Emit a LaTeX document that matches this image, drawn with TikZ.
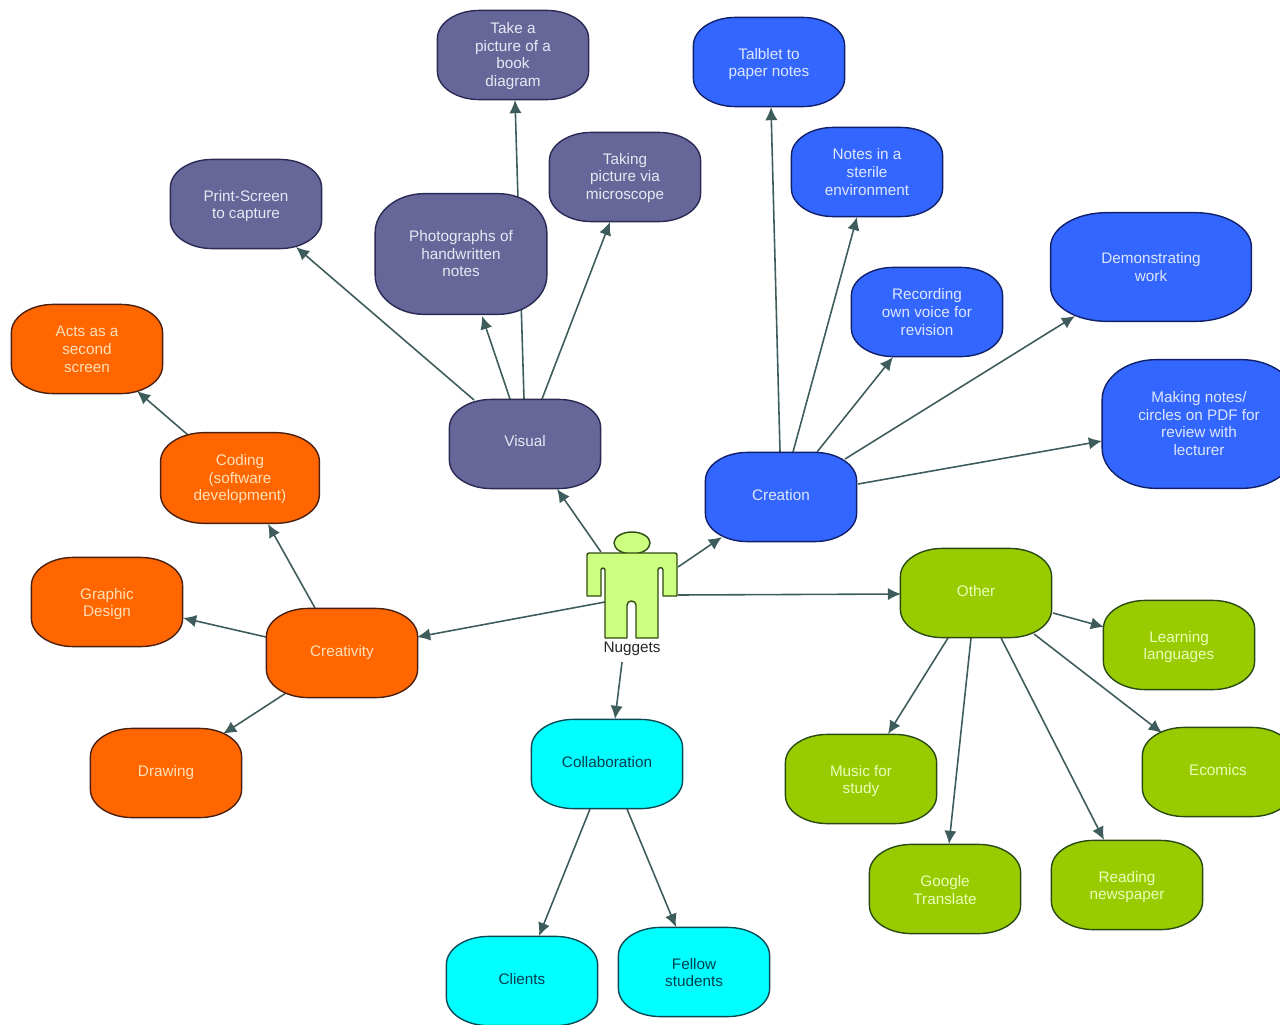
\documentclass[tikz,border=0pt]{standalone}
\usepackage{fontspec}
\setmainfont{Liberation Sans}
\usetikzlibrary{arrows.meta,backgrounds}
\definecolor{purp}{HTML}{666699}
\definecolor{purpl}{HTML}{2A2A55}
\definecolor{purpt}{HTML}{E8E8F4}
\definecolor{blu}{HTML}{3366FF}
\definecolor{blul}{HTML}{10206A}
\definecolor{blut}{HTML}{DDE6FF}
\definecolor{ora}{HTML}{FF6600}
\definecolor{oral}{HTML}{4A2010}
\definecolor{orat}{HTML}{FFE0B8}
\definecolor{gre}{HTML}{99CC00}
\definecolor{grel}{HTML}{2A4A14}
\definecolor{gret}{HTML}{E8FFB8}
\definecolor{cya}{HTML}{00FFFF}
\definecolor{cyal}{HTML}{0B4A55}
\definecolor{cyat}{HTML}{00404F}
\definecolor{edgec}{HTML}{3F5C5C}
\definecolor{manfill}{HTML}{CCFF80}
\definecolor{manline}{HTML}{2F4A10}
% text block, moved by #1 without changing the node's size
\newcommand{\tx}[2]{\raisebox{#1}[\height][\depth]{\begin{tabular}[c]{@{}c@{}}#2\end{tabular}}}
\newcommand{\conn}[4]{\draw[conn] ([shift={(#2)}]#1.center) -- ([shift={(#4)}]#3.center);}
% body of a bubble: name, fill, line, corner radii
\newcommand{\blob}[5]{\filldraw[fill=#2,draw=#3,line width=0.8pt]
  ([xshift=#4]#1.north west) -- ([xshift=-#4]#1.north east)
  .. controls ([xshift=-0.45*#4]#1.north east) and ([yshift=-0.45*#5]#1.north east) .. ([yshift=-#5]#1.north east)
  -- ([yshift=#5]#1.south east)
  .. controls ([yshift=0.45*#5]#1.south east) and ([xshift=-0.45*#4]#1.south east) .. ([xshift=-#4]#1.south east)
  -- ([xshift=#4]#1.south west)
  .. controls ([xshift=0.45*#4]#1.south west) and ([yshift=0.45*#5]#1.south west) .. ([yshift=#5]#1.south west)
  -- ([yshift=-#5]#1.north west)
  .. controls ([yshift=-0.45*#5]#1.north west) and ([xshift=0.45*#4]#1.north west) .. cycle;}
\newcommand{\blobn}[3]{\blob{#1}{#2}{#3}{0.84cm}{0.56cm}}
\tikzset{
  bubble/.style={inner sep=0pt,minimum width=3.01cm,minimum height=1.77cm,
    font=\fontsize{8.7}{10}\selectfont},
  boxw/.style={minimum width=#1*0.02cm},
  boxh/.style={minimum height=#1*0.02cm},
  purpbox/.style={bubble,text=purpt},
  blubox/.style={bubble,text=blut},
  orabox/.style={bubble,text=orat},
  grebox/.style={bubble,text=gret},
  cyabox/.style={bubble,text=cyat},
  conn/.style={draw=edgec,line width=0.9pt,-{Latex[length=7.5pt,width=7pt]}},
  manshape/.style={draw=manline,fill=manfill,line width=0.8pt,line join=round}
}
\begin{document}
\begin{tikzpicture}[x=0.02cm,y=-0.02cm]
\useasboundingbox (0,0) rectangle (1280,1024);
\clip (0,0) rectangle (1280,1024);
% person
\coordinate (man) at (632,595);
\filldraw[manshape] (632,543) ellipse [x radius=18,y radius=11];
\filldraw[manshape] (589,553) -- (675,553) to[out=0,in=90] (677,555) -- (677,596) -- (663,596) -- (663,570)
  to[out=90,in=90,looseness=1.6] (658,570) -- (658,638) -- (636,638) -- (636,605)
  to[out=90,in=90,looseness=1.5] (627,605) -- (627,638) -- (605,638) -- (605,570)
  to[out=90,in=90,looseness=1.6] (601,570) -- (601,596) -- (587,596) -- (587,555) to[out=90,in=180] cycle;
\node[font=\fontsize{8.7}{10}\selectfont,inner sep=0pt,text=black!85] (nug) at (632,648) {\raisebox{-0.6pt}[\height][\depth]{Nuggets}};
% purple
\node[purpbox] (take) at (513,55) {\tx{-0.9pt}{Take a\\picture of a\\book\\diagram}};
\node[purpbox] (print) at (246,204) {\tx{-1.4pt}{Print-Screen\\to capture}};
\node[purpbox] (taking) at (625,177) {\tx{-0.7pt}{Taking\\picture via\\microscope}};
\node[purpbox,boxw=171,boxh=120] (photo) at (461,254) {\tx{-0.9pt}{Photographs of\\handwritten\\notes}};
\node[purpbox] (vis) at (525,444) {\tx{0.6pt}{Visual}};
% blue
\node[blubox] (tab) at (769,62) {\tx{-1.4pt}{Talblet to\\paper notes}};
\node[blubox] (notes) at (867,172) {\tx{-1.1pt}{Notes in a\\sterile\\environment}};
\node[blubox] (rec) at (927,312) {\tx{-1.1pt}{Recording\\own voice for\\revision}};
\node[blubox,boxw=200,boxh=108] (demo) at (1151,267) {\tx{-1.1pt}{Demonstrating\\work}};
\node[blubox,boxw=193,boxh=128] (mak) at (1199,424) {\tx{-0.9pt}{Making notes/\\circles on PDF for\\review with\\lecturer}};
\node[blubox] (cre) at (781,497) {\tx{0pt}{Creation}};
% orange
\node[orabox] (acts) at (87,349) {\tx{-1.1pt}{Acts as a\\second\\screen}};
\node[orabox,boxw=158,boxh=90] (cod) at (240,478) {\tx{-0.9pt}{Coding\\(software\\development)}};
\node[orabox] (gra) at (107,602) {\tx{-1.4pt}{Graphic\\Design}};
\node[orabox] (crty) at (342,653) {\tx{0pt}{Creativity}};
\node[orabox] (dra) at (166,773) {\tx{0pt}{Drawing}};
% cyan
\node[cyabox] (col) at (607,764) {\tx{0pt}{Collaboration}};
\node[cyabox] (cli) at (522,981) {\tx{0pt}{Clients}};
\node[cyabox] (fel) at (694,972) {\tx{-1.4pt}{Fellow\\students}};
% green
\node[grebox] (oth) at (976,593) {\tx{0pt}{Other}};
\node[grebox] (lea) at (1179,645) {\tx{-1.4pt}{Learning\\languages}};
\node[grebox] (mus) at (861,779) {\tx{-1.4pt}{Music for\\study}};
\node[grebox] (eco) at (1218,772) {\tx{0pt}{Ecomics}};
\node[grebox] (goo) at (945,889) {\tx{-1.6pt}{Google\\Translate}};
\node[grebox] (rea) at (1127,885) {\tx{-1.4pt}{Reading\\newspaper}};
% connectors, then the bubble bodies over them, all behind the texts
\begin{scope}[on background layer]
\conn{man}{-31,-43}{vis}{32,45}
\conn{man}{46,-28}{cre}{-59,40}
\conn{man}{46,0}{oth}{-75,1}
\conn{man}{-27,7}{crty}{75,-16}
\conn{nug}{-10,14}{col}{8,-45}
\conn{vis}{-51,-44}{print}{50,43}
\conn{vis}{-15,-45}{photo}{21,62}
\conn{vis}{-1,-45}{take}{2,45}
\conn{vis}{17,-45}{taking}{-15,45}
\conn{cre}{-1,-45}{tab}{2,45}
\conn{cre}{12,-45}{notes}{-10,45}
\conn{cre}{36,-45}{rec}{-34,45}
\conn{cre}{64,-38}{demo}{-76,49}
\conn{cre}{77,-13}{mak}{-97,17}
\conn{crty}{-27,-45}{cod}{28,46}
\conn{cod}{-52,-43}{acts}{50,42}
\conn{crty}{-76,-16}{gra}{76,16}
\conn{crty}{-56,40}{dra}{57,-39}
\conn{col}{-17,45}{cli}{17,-45}
\conn{col}{20,45}{fel}{-18,-45}
\conn{oth}{77,20}{lea}{-75,-18}
\conn{oth}{-28,45}{mus}{27,-45}
\conn{oth}{-5,45}{goo}{4,-45}
\conn{oth}{25,45}{rea}{-23,-45}
\conn{oth}{58,41}{eco}{-56,-39}
\blobn{take}{purp}{purpl}
\blobn{print}{purp}{purpl}
\blobn{taking}{purp}{purpl}
\blob{photo}{purp}{purpl}{0.98cm}{0.78cm}
\blobn{vis}{purp}{purpl}
\blobn{tab}{blu}{blul}
\blobn{notes}{blu}{blul}
\blobn{rec}{blu}{blul}
\blob{demo}{blu}{blul}{1.12cm}{0.68cm}
\blob{mak}{blu}{blul}{1.08cm}{0.8cm}
\blobn{cre}{blu}{blul}
\blobn{acts}{ora}{oral}
\blob{cod}{ora}{oral}{0.88cm}{0.57cm}
\blobn{gra}{ora}{oral}
\blobn{crty}{ora}{oral}
\blobn{dra}{ora}{oral}
\blobn{col}{cya}{cyal}
\blobn{cli}{cya}{cyal}
\blobn{fel}{cya}{cyal}
\blobn{oth}{gre}{grel}
\blobn{lea}{gre}{grel}
\blobn{mus}{gre}{grel}
\blobn{eco}{gre}{grel}
\blobn{goo}{gre}{grel}
\blobn{rea}{gre}{grel}
\end{scope}
\end{tikzpicture}
\end{document}
